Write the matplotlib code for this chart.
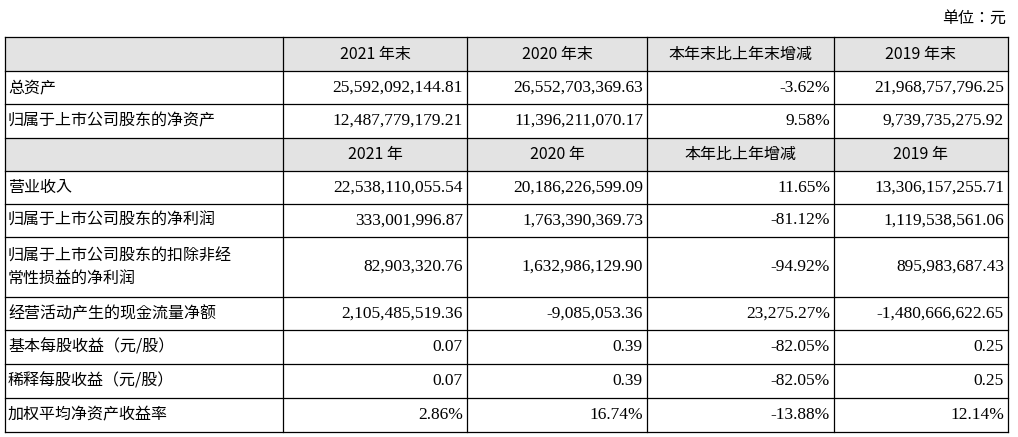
import matplotlib
matplotlib.use("Agg")
import matplotlib.pyplot as plt
from matplotlib import font_manager as fm

header1 = ["", "2021 年末", "2020 年末", "本年末比上年末增减", "2019 年末"]
header2 = ["", "2021 年", "2020 年", "本年比上年增减", "2019 年"]
labels = ["总资产", "归属于上市公司股东的净资产", None,
          "营业收入", "归属于上市公司股东的净利润",
          "归属于上市公司股东的扣除非经\n常性损益的净利润",
          "经营活动产生的现金流量净额", "基本每股收益（元/股）",
          "稀释每股收益（元/股）", "加权平均净资产收益率"]
col2021 = ["25,592,092,144.81", "12,487,779,179.21", None, "22,538,110,055.54",
           "333,001,996.87", "82,903,320.76", "2,105,485,519.36", "0.07", "0.07", "2.86%"]
col2020 = ["26,552,703,369.63", "11,396,211,070.17", None, "20,186,226,599.09",
           "1,763,390,369.73", "1,632,986,129.90", "-9,085,053.36", "0.39", "0.39", "16.74%"]
colchg = ["-3.62%", "9.58%", None, "11.65%", "-81.12%", "-94.92%",
          "23,275.27%", "-82.05%", "-82.05%", "-13.88%"]
col2019 = ["21,968,757,796.25", "9,739,735,275.92", None, "13,306,157,255.71",
           "1,119,538,561.06", "895,983,687.43", "-1,480,666,622.65", "0.25", "0.25", "12.14%"]

names = {f.name for f in fm.fontManager.ttflist}
cjk = [n for n in ["Noto Sans CJK SC", "Noto Sans CJK JP", "Noto Sans CJK TC",
                   "Noto Sans CJK KR", "Noto Serif CJK SC"] if n in names]
if not cjk:
    cjk = sorted(n for n in names if "CJK" in n)[:1]
CJK = cjk + ["DejaVu Sans"]
NUM = ["Liberation Serif"]

W, H = 1018, 437
fig = plt.figure(figsize=(W/100, H/100), dpi=100)
ax = fig.add_axes([0, 0, 1, 1])
ax.set_xlim(0, W); ax.set_ylim(H, 0); ax.axis("off")
fs = 12.5
fsc = 11.5

xs = [5, 283, 467, 647, 834, 1008]
ys = [37, 71, 104, 138, 171, 204, 237, 297, 330, 364, 398, 432]

ax.text(1006, 18, "单位：元", ha="right", va="center", fontsize=fsc, family=CJK)

for hi in (0, 3):
    ax.add_patch(plt.Rectangle((xs[0], ys[hi]), xs[-1]-xs[0], ys[hi+1]-ys[hi],
                               facecolor="#e3e3e3", edgecolor="none"))
for y in ys:
    ax.plot([xs[0], xs[-1]], [y, y], color="black", lw=0.9)
for x in xs:
    ax.plot([x, x], [ys[0], ys[-1]], color="black", lw=0.9)

def header(row, hdr):
    yc = (ys[row] + ys[row+1]) / 2
    for j in range(1, 5):
        ax.text((xs[j]+xs[j+1])/2, yc, hdr[j], ha="center", va="center",
                fontsize=fsc, family=CJK)

header(0, header1)
header(3, header2)
rowidx = [1, 2, None, 4, 5, 6, 7, 8, 9, 10]
for k, r in enumerate(rowidx):
    if r is None:
        continue
    yc = (ys[r] + ys[r+1]) / 2
    ax.text(8, yc, labels[k], ha="left", va="center", fontsize=fsc,
            linespacing=1.4, family=CJK)
    for j, col in enumerate([col2021, col2020, colchg, col2019]):
        ax.text(xs[j+2]-4, yc, col[k], ha="right", va="center", fontsize=fs, family=NUM)

fig.savefig("out.png", dpi=100)
